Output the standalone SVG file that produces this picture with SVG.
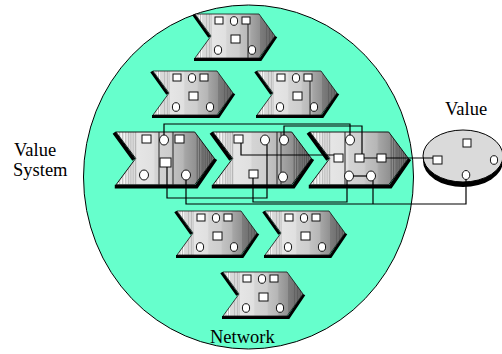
<svg xmlns="http://www.w3.org/2000/svg" xmlns:xlink="http://www.w3.org/1999/xlink" width="502" height="354" viewBox="0 0 502 354">
<style>
.lbl{font-family:'Liberation Serif','Times New Roman',serif;font-size:18.5px;fill:#000}
.mk{fill:#fff;stroke:#111;stroke-width:1}
.cn{fill:none;stroke:#000;stroke-width:1.2}
.il{stroke:#222;stroke-width:1}
</style>
<defs>
<linearGradient id="gr" x1="0" y1="0" x2="1" y2="0">
<stop offset="0" stop-color="#f8f8f8"/>
<stop offset="0.19" stop-color="#f2f2f2"/>
<stop offset="0.2" stop-color="#e6e6e6"/>
<stop offset="0.38" stop-color="#e0e0e0"/>
<stop offset="0.4" stop-color="#d4d4d4"/>
<stop offset="0.55" stop-color="#cdcdcd"/>
<stop offset="0.57" stop-color="#c2c2c2"/>
<stop offset="0.68" stop-color="#b6b6b6"/>
<stop offset="0.7" stop-color="#a6a6a6"/>
<stop offset="0.8" stop-color="#939393"/>
<stop offset="1" stop-color="#6c6c6c"/>
</linearGradient>
<clipPath id="cc"><path d="M0,0H64L80,22L64,44H0L16,22Z"/></clipPath>
<g id="base">
<path d="M-1.5,0.5L14.5,23M-1,45.5H65.5L81,22.5" fill="none" stroke="#000" stroke-width="3"/>
<path d="M0,0H64L80,22L64,44H0L16,22Z" fill="url(#gr)"/>
<g clip-path="url(#cc)" stroke-width="0.5">
<path d="M3,0V44M5.5,0V44M8,0V44M10,0V44M11.5,0V44M13,0V44M14.5,0V44M16,0V44" stroke="#888"/>
<path d="M66,0V44M68,0V44M70,0V44M71.5,0V44M73,0V44M74.5,0V44M76,0V44M77.5,0V44" stroke="#444"/>
</g>
<path d="M0,0H64L80,22L64,44H0L16,22Z" fill="none" stroke="#111" stroke-width="0.8"/>
</g>
<g id="marks">
<rect class="mk" x="20" y="3" width="8" height="7"/>
<ellipse class="mk" cx="39" cy="7" rx="3.6" ry="4.3"/>
<rect class="mk" x="47" y="3" width="8" height="7"/>
<rect class="mk" x="36" y="21" width="9" height="8"/>
<ellipse class="mk" cx="23" cy="36" rx="3.6" ry="4.3"/>
<ellipse class="mk" cx="57" cy="36" rx="3.6" ry="4.3"/>
</g>
</defs>

<ellipse id="network" cx="248.5" cy="177" rx="165" ry="172" fill="#66ffcc" stroke="#000" stroke-width="1"/>

<g id="n1" transform="translate(195,14)">
<use xlink:href="#base"/>
<path class="il" d="M53,10V44"/>
<use xlink:href="#marks"/>
</g>
<g id="n2" transform="translate(153,71)">
<use xlink:href="#base"/>
<use xlink:href="#marks"/>
</g>
<g id="n3" transform="translate(257,71)">
<use xlink:href="#base"/>
<path class="il" d="M53,10V44"/>
<use xlink:href="#marks"/>
</g>

<g id="n4">
<use xlink:href="#base" transform="translate(116,132) scale(1.23,1.2)"/>
<path class="il" d="M159,132V185M173,132V185"/>
<rect class="mk" x="142" y="135" width="9" height="8"/>
<ellipse class="mk" cx="164" cy="140" rx="4.5" ry="5"/>
<rect class="mk" x="175" y="135" width="9" height="8"/>
<rect class="mk" x="160" y="158" width="11" height="9"/>
<ellipse class="mk" cx="144" cy="175" rx="4.5" ry="5"/>
<ellipse class="mk" cx="186" cy="175" rx="4.5" ry="5"/>
</g>
<g id="n5">
<use xlink:href="#base" transform="translate(213,132) scale(1.23,1.2)"/>
<path class="il" d="M277,132V185M281,132V185"/>
<rect class="mk" x="234" y="135" width="9" height="8"/>
<ellipse class="mk" cx="265" cy="140" rx="4.5" ry="5"/>
<ellipse class="mk" cx="284" cy="140" rx="4.5" ry="5"/>
<rect class="mk" x="249" y="170" width="9" height="8"/>
<ellipse class="mk" cx="283" cy="177" rx="4.5" ry="5"/>
</g>
<g id="n6">
<use xlink:href="#base" transform="translate(310,132) scale(1.23,1.2)"/>
<path class="il" d="M345,132V185"/>
<ellipse class="mk" cx="350" cy="140" rx="4.5" ry="5"/>
<rect class="mk" x="334" y="154" width="9" height="8"/>
<rect class="mk" x="355" y="154" width="9" height="8"/>
<rect class="mk" x="377" y="154" width="9" height="8"/>
<ellipse class="mk" cx="349" cy="176" rx="4.5" ry="5"/>
<ellipse class="mk" cx="371" cy="176" rx="4.5" ry="5"/>
</g>

<g id="n7" transform="translate(177,211)">
<use xlink:href="#base"/>
<use xlink:href="#marks"/>
</g>
<g id="n8" transform="translate(265,211)">
<use xlink:href="#base"/>
<use xlink:href="#marks"/>
</g>
<g id="n9" transform="translate(223,272)">
<use xlink:href="#base"/>
<use xlink:href="#marks"/>
</g>

<g id="value">
<ellipse cx="463" cy="161" rx="40" ry="26" fill="#000"/>
<ellipse cx="463" cy="156" rx="40" ry="26" fill="#dadada" stroke="#000" stroke-width="1"/>
<rect class="mk" x="463" y="139" width="8" height="8"/>
<rect class="mk" x="433" y="156" width="9" height="8"/>
<ellipse class="mk" cx="494" cy="160" rx="3.6" ry="4.3"/>
<ellipse class="mk" cx="466" cy="175" rx="3.8" ry="4.5"/>
</g>

<g id="connectors">
<path class="cn" d="M164,135V124H350V135"/>
<path class="cn" d="M284,135V126H362V154"/>
<path class="cn" d="M167,167V198H267V144.5"/>
<path class="cn" d="M253,178V202H347V180.5"/>
<path class="cn" d="M186,180V204H466V179.5"/>
<path class="cn" d="M373,180.5V204"/>
<path class="cn" d="M241,143V155H334"/>
<path class="cn" d="M364,158H377M386,158H433"/>
<path class="cn" d="M353.5,176H366.5"/>
</g>

<text class="lbl" x="14" y="156">Value</text>
<text class="lbl" x="13" y="176">System</text>
<text class="lbl" x="445" y="115">Value</text>
<text class="lbl" x="210" y="343">Network</text>
</svg>
